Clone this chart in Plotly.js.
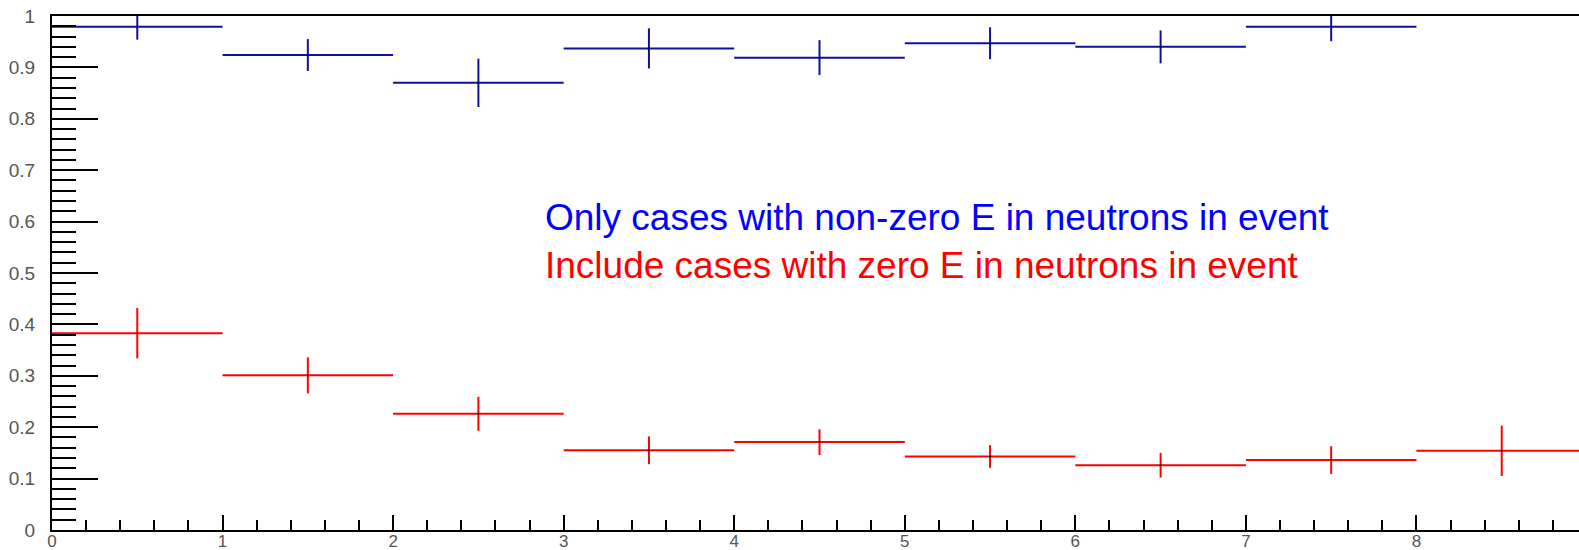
<!DOCTYPE html>
<html>
<head>
<meta charset="utf-8">
<script src="https://cdn.plot.ly/plotly-3.0.1.min.js"></script>
<style>
html,body{margin:0;padding:0;overflow:hidden;background:#fff;}
#chart{width:1600px;height:550px;}
</style>
</head>
<body>
<div id="chart"></div>
<script>
// Bin centers (bin width 1)
var blueX = [0.5, 1.5, 2.5, 3.5, 4.5, 5.5, 6.5, 7.5];
var blueY = [0.979, 0.924, 0.870, 0.937, 0.919, 0.947, 0.940, 0.979];
var blueErr = [0.025, 0.031, 0.047, 0.039, 0.034, 0.031, 0.032, 0.028];

var redX = [0.5, 1.5, 2.5, 3.5, 4.5, 5.5, 6.5, 7.5, 8.5];
var redY = [0.383, 0.301, 0.226, 0.155, 0.171, 0.143, 0.126, 0.136, 0.154];
var redErr = [0.049, 0.035, 0.033, 0.027, 0.025, 0.022, 0.024, 0.027, 0.049];

var binHalfWidth = 0.5;

var xTickVals = [0, 1, 2, 3, 4, 5, 6, 7, 8];
var yTickVals = [0, 0.1, 0.2, 0.3, 0.4, 0.5, 0.6, 0.7, 0.8, 0.9, 1];
var yTickText = ['0', '0.1', '0.2', '0.3', '0.4', '0.5', '0.6', '0.7', '0.8', '0.9', '1'];

var blueLabel = 'Only cases with non-zero E in neutrons in event';
var redLabel = 'Include cases with zero E in neutrons in event';

function histTrace(xs, ys, errs, color) {
  return {
    type: 'scatter',
    mode: 'markers',
    x: xs,
    y: ys,
    marker: {size: 2, color: '#000'},
    error_y: {type: 'data', array: errs, visible: true, color: color, thickness: 2, width: 0},
    error_x: {type: 'data', array: xs.map(function(){return binHalfWidth;}), visible: true, color: color, thickness: 2, width: 0},
    showlegend: false,
    hoverinfo: 'x+y'
  };
}

var data = [
  histTrace(redX, redY, redErr, '#ff0000'),
  histTrace(blueX, blueY, blueErr, '#10109a')
];

var layout = {
  width: 1600,
  height: 550,
  margin: {l: 52, r: 13, t: 16, b: 20},
  paper_bgcolor: '#fff',
  plot_bgcolor: '#fff',
  font: {family: 'Liberation Sans, Arial, sans-serif', color: '#444', size: 18},
  xaxis: {
    range: [0, 9],
    tickmode: 'array',
    tickvals: xTickVals,
    ticks: 'inside',
    ticklen: 15,
    tickwidth: 2,
    tickcolor: '#000',
    showline: true,
    linecolor: '#000',
    linewidth: 2,
    mirror: true,
    showgrid: false,
    zeroline: false,
    minor: {dtick: 0.2, tick0: 0, ticks: 'inside', ticklen: 10, tickwidth: 2, tickcolor: '#000', showgrid: false},
    tickfont: {size: 17, color: '#555'},
    ticklabelstandoff: -5
  },
  yaxis: {
    range: [0, 1],
    tickmode: 'array',
    tickvals: yTickVals,
    ticktext: yTickText,
    ticks: 'inside',
    ticklen: 46,
    tickwidth: 2,
    tickcolor: '#000',
    showline: true,
    linecolor: '#000',
    linewidth: 2,
    mirror: true,
    showgrid: false,
    zeroline: false,
    minor: {dtick: 0.02, tick0: 0, ticks: 'inside', ticklen: 24, tickwidth: 2, tickcolor: '#000', showgrid: false},
    tickfont: {size: 19, color: '#555'},
    ticklabelstandoff: 11
  },
  annotations: [
    {xref: 'paper', yref: 'paper', x: (543-52)/1535, y: (530-217)/514, xanchor: 'left', yanchor: 'middle',
     text: blueLabel, showarrow: false, font: {size: 37, color: '#0000ff', family: 'Liberation Sans, Arial, sans-serif'}},
    {xref: 'paper', yref: 'paper', x: (543-52)/1535, y: (530-265)/514, xanchor: 'left', yanchor: 'middle',
     text: redLabel, showarrow: false, font: {size: 37, color: '#ff0000', family: 'Liberation Sans, Arial, sans-serif'}}
  ]
};

Plotly.newPlot('chart', data, layout, {displayModeBar: false, staticPlot: true});
</script>
</body>
</html>
